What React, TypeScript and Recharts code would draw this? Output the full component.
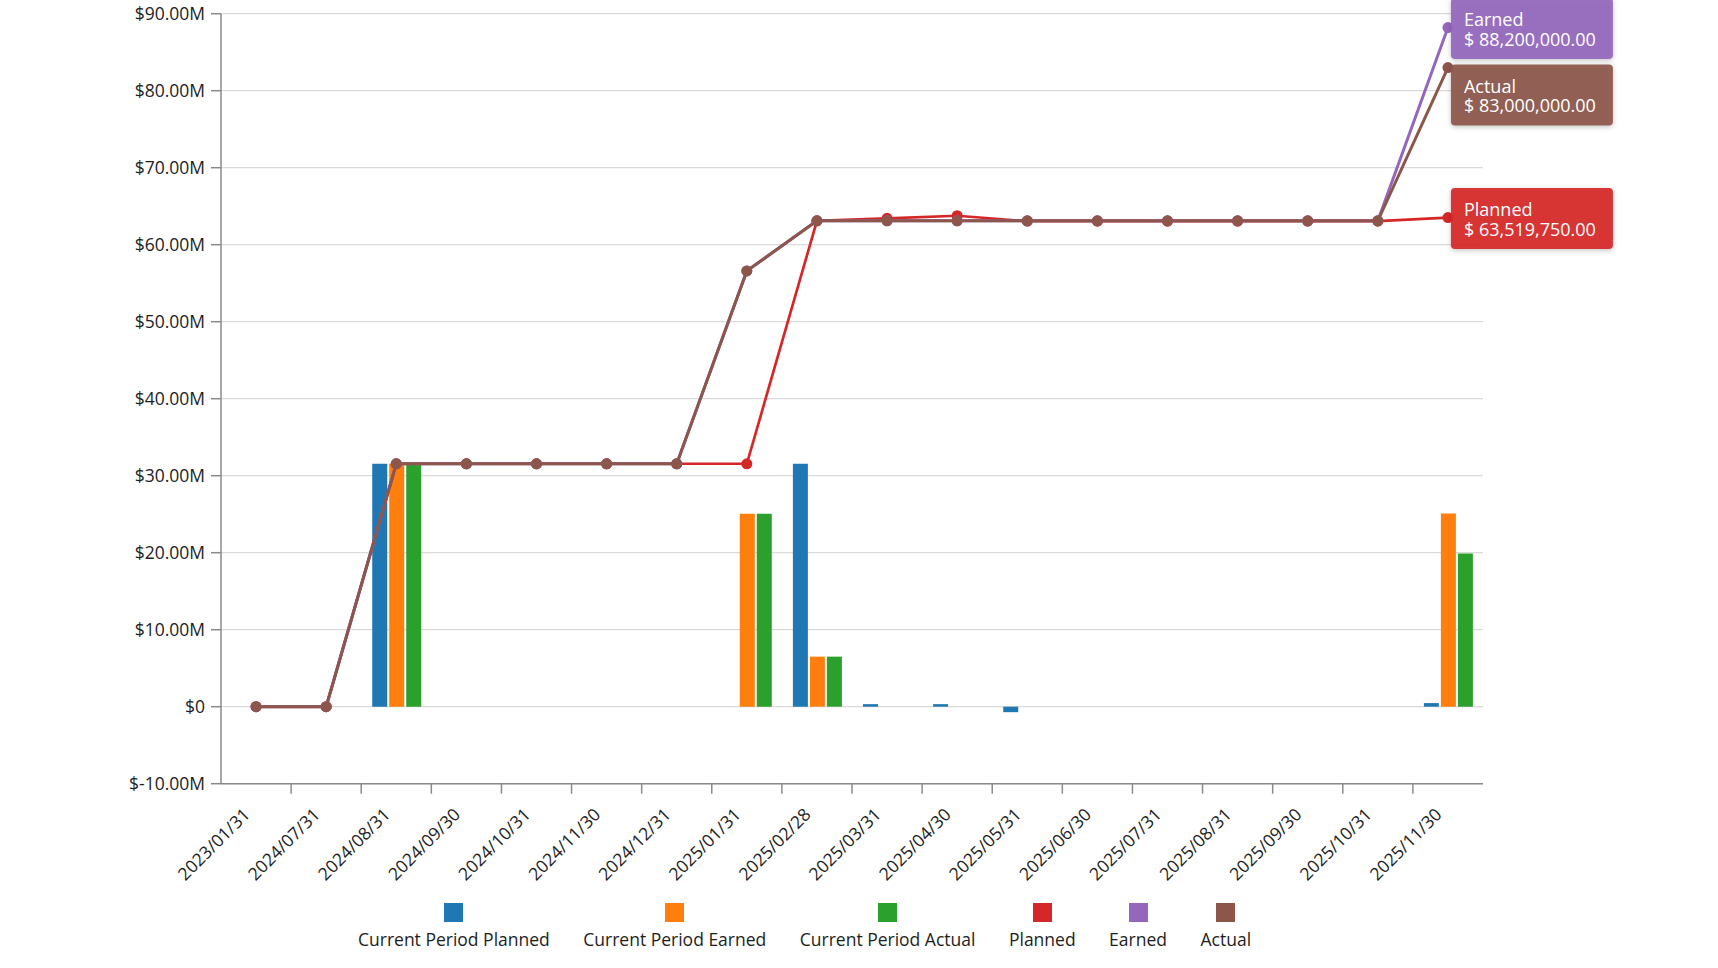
import React from "react";
import { ComposedChart, Bar, Line, XAxis, YAxis, CartesianGrid, LabelList } from "recharts";

const dates = [
	"2023/01/31", "2024/07/31", "2024/08/31", "2024/09/30", "2024/10/31", "2024/11/30",
	"2024/12/31", "2025/01/31", "2025/02/28", "2025/03/31", "2025/04/30", "2025/05/31",
	"2025/06/30", "2025/07/31", "2025/08/31", "2025/09/30", "2025/10/31", "2025/11/30",
];

const periodPlanned = [0, 0, 31550000, 0, 0, 0, 0, 0, 31550000, 330000, 330000, -710000, 0, 0, 0, 0, 0, 469750];
const periodEarned = [0, 0, 31550000, 0, 0, 0, 0, 25050000, 6500000, 0, 0, 0, 0, 0, 0, 0, 0, 25100000];
const periodActual = [0, 0, 31550000, 0, 0, 0, 0, 25050000, 6500000, 0, 0, 0, 0, 0, 0, 0, 0, 19900000];

const planned = [0, 0, 31550000, 31550000, 31550000, 31550000, 31550000, 31550000, 63100000, 63430000, 63760000, 63050000, 63050000, 63050000, 63050000, 63050000, 63050000, 63519750];
const earned = [0, 0, 31550000, 31550000, 31550000, 31550000, 31550000, 56600000, 63100000, 63100000, 63100000, 63100000, 63100000, 63100000, 63100000, 63100000, 63100000, 88200000];
const actual = [0, 0, 31550000, 31550000, 31550000, 31550000, 31550000, 56600000, 63100000, 63100000, 63100000, 63100000, 63100000, 63100000, 63100000, 63100000, 63100000, 83000000];

const yTicks = [-10000000, 0, 10000000, 20000000, 30000000, 40000000, 50000000, 60000000, 70000000, 80000000, 90000000];

const BLUE = "#1f77b4";
const ORANGE = "#ff7f0e";
const GREEN = "#2ca02c";
const RED = "#d62728";
const PURPLE = "#9467bd";
const BROWN = "#8c564b";

const FONT = "'Open Sans', 'Noto Sans', sans-serif";
const TEXT = "#1e1e1e";
const AXIS = "#8a8a8a";

const W = 1718;
const H = 968;
const PLOT_LEFT = 221;
const PLOT_RIGHT = 1483;
const PLOT_TOP = 13.7;
const PLOT_BOTTOM = 783.7;
const BAND = (PLOT_RIGHT - PLOT_LEFT) / dates.length;

const legendItems = [
	{ name: "Current Period Planned", color: BLUE },
	{ name: "Current Period Earned", color: ORANGE },
	{ name: "Current Period Actual", color: GREEN },
	{ name: "Planned", color: RED },
	{ name: "Earned", color: PURPLE },
	{ name: "Actual", color: BROWN },
];

const data = dates.map((date, i) => ({
	date,
	periodPlanned: periodPlanned[i],
	periodEarned: periodEarned[i],
	periodActual: periodActual[i],
	planned: planned[i],
	earned: earned[i],
	actual: actual[i],
}));

function fmtAxis(v: number) {
	if (v === 0) return "$0";
	return `$${(v / 1000000).toFixed(2)}M`;
}

function fmtMoney(v: number) {
	return "$ " + v.toLocaleString("en-US", { minimumFractionDigits: 2, maximumFractionDigits: 2 });
}

function DateTick(props: any) {
	const { x, payload, index } = props;
	return (
		<g>
			{index > 0 && (
				<line x1={x - BAND / 2} x2={x - BAND / 2}
				      y1={PLOT_BOTTOM} y2={PLOT_BOTTOM + 10}
				      stroke={AXIS} strokeWidth={1.5} />
			)}
			<text transform={`translate(${x - 5},${PLOT_BOTTOM + 32}) rotate(-45)`}
			      textAnchor="end"
			      fontSize={17.5}
			      fontFamily={FONT}
			      fill={TEXT}>
				{payload.value}
			</text>
		</g>
	);
}

function endLabel(name: string, color: string, shift: number) {
	const id = `shadow-${name}`;
	return (props: any) => {
		const { x, y, value, index } = props;
		if (index !== dates.length - 1) return null;
		const top = y - 29.5 + shift;
		return (
			<g>
				<defs>
					<filter id={id} x="-20%" y="-30%" width="140%" height="160%">
						<feDropShadow dx="0" dy="1.5" stdDeviation="2.5" floodOpacity="0.25" />
					</filter>
				</defs>
				<rect x={x + 3} y={top} width={162} height={61} rx={4}
				      fill={color} fillOpacity={0.92} filter={`url(#${id})`} />
				<text fill="#fff" fontSize={18} fontFamily={FONT}>
					<tspan x={x + 16} y={top + 28}>{name}</tspan>
					<tspan x={x + 16} y={top + 47.5}>{fmtMoney(value)}</tspan>
				</text>
			</g>
		);
	};
}

export default function App() {
	return (
		<div style={{ position: "absolute", left: 0, top: 0, width: W, height: H, background: "#fff" }}>
			<ComposedChart width={W}
			               height={H}
			               data={data}
			               barSize={15}
			               barGap={2}
			               style={{ overflow: "visible" }}
			               margin={{ top: PLOT_TOP, right: W - PLOT_RIGHT, left: 0, bottom: 0 }}>
				<CartesianGrid vertical={false} stroke="#dadada" strokeWidth={1.3} />
				<XAxis dataKey="date"
				       height={H - PLOT_BOTTOM}
				       interval={0}
				       tickLine={false}
				       axisLine={{ stroke: AXIS, strokeWidth: 1.5 }}
				       tick={<DateTick />} />
				<YAxis width={PLOT_LEFT}
				       type="number"
				       domain={[-10000000, 90000000]}
				       ticks={yTicks}
				       interval={0}
				       tickFormatter={fmtAxis}
				       tickSize={10}
				       tickMargin={6}
				       axisLine={{ stroke: AXIS, strokeWidth: 1.5 }}
				       tickLine={{ stroke: AXIS, strokeWidth: 1.5 }}
				       tick={{ fontSize: 17.5, fill: TEXT, fontFamily: FONT }} />
				<Bar dataKey="periodPlanned" fill={BLUE} isAnimationActive={false} />
				<Bar dataKey="periodEarned" fill={ORANGE} isAnimationActive={false} />
				<Bar dataKey="periodActual" fill={GREEN} isAnimationActive={false} />
				<Line dataKey="planned" type="linear" stroke={RED} strokeWidth={2.7}
				      dot={{ r: 5.5, fill: RED, stroke: RED, strokeWidth: 0 }}
				      activeDot={false} isAnimationActive={false}>
					<LabelList dataKey="planned" content={endLabel("Planned", RED, 0)} />
				</Line>
				<Line dataKey="earned" type="linear" stroke={PURPLE} strokeWidth={3}
				      dot={{ r: 5.5, fill: PURPLE, stroke: PURPLE, strokeWidth: 0 }}
				      activeDot={false} isAnimationActive={false}>
					<LabelList dataKey="earned" content={endLabel("Earned", PURPLE, 0)} />
				</Line>
				<Line dataKey="actual" type="linear" stroke={BROWN} strokeWidth={3}
				      dot={{ r: 5.5, fill: BROWN, stroke: BROWN, strokeWidth: 0 }}
				      activeDot={false} isAnimationActive={false}>
					<LabelList dataKey="actual" content={endLabel("Actual", BROWN, 26.5)} />
				</Line>
			</ComposedChart>
			<div style={{
				position: "absolute",
				left: 358,
				top: 903,
				display: "flex",
				gap: 33.5,
				fontFamily: FONT,
				fontSize: 17.5,
				color: TEXT,
			}}>
				{legendItems.map((item) => (
					<div key={item.name}
					     style={{ display: "flex", flexDirection: "column", alignItems: "center" }}>
						<div style={{ width: 19, height: 19, background: item.color, marginBottom: 5 }} />
						<div style={{ whiteSpace: "nowrap", lineHeight: "24px" }}>{item.name}</div>
					</div>
				))}
			</div>
		</div>
	);
}
